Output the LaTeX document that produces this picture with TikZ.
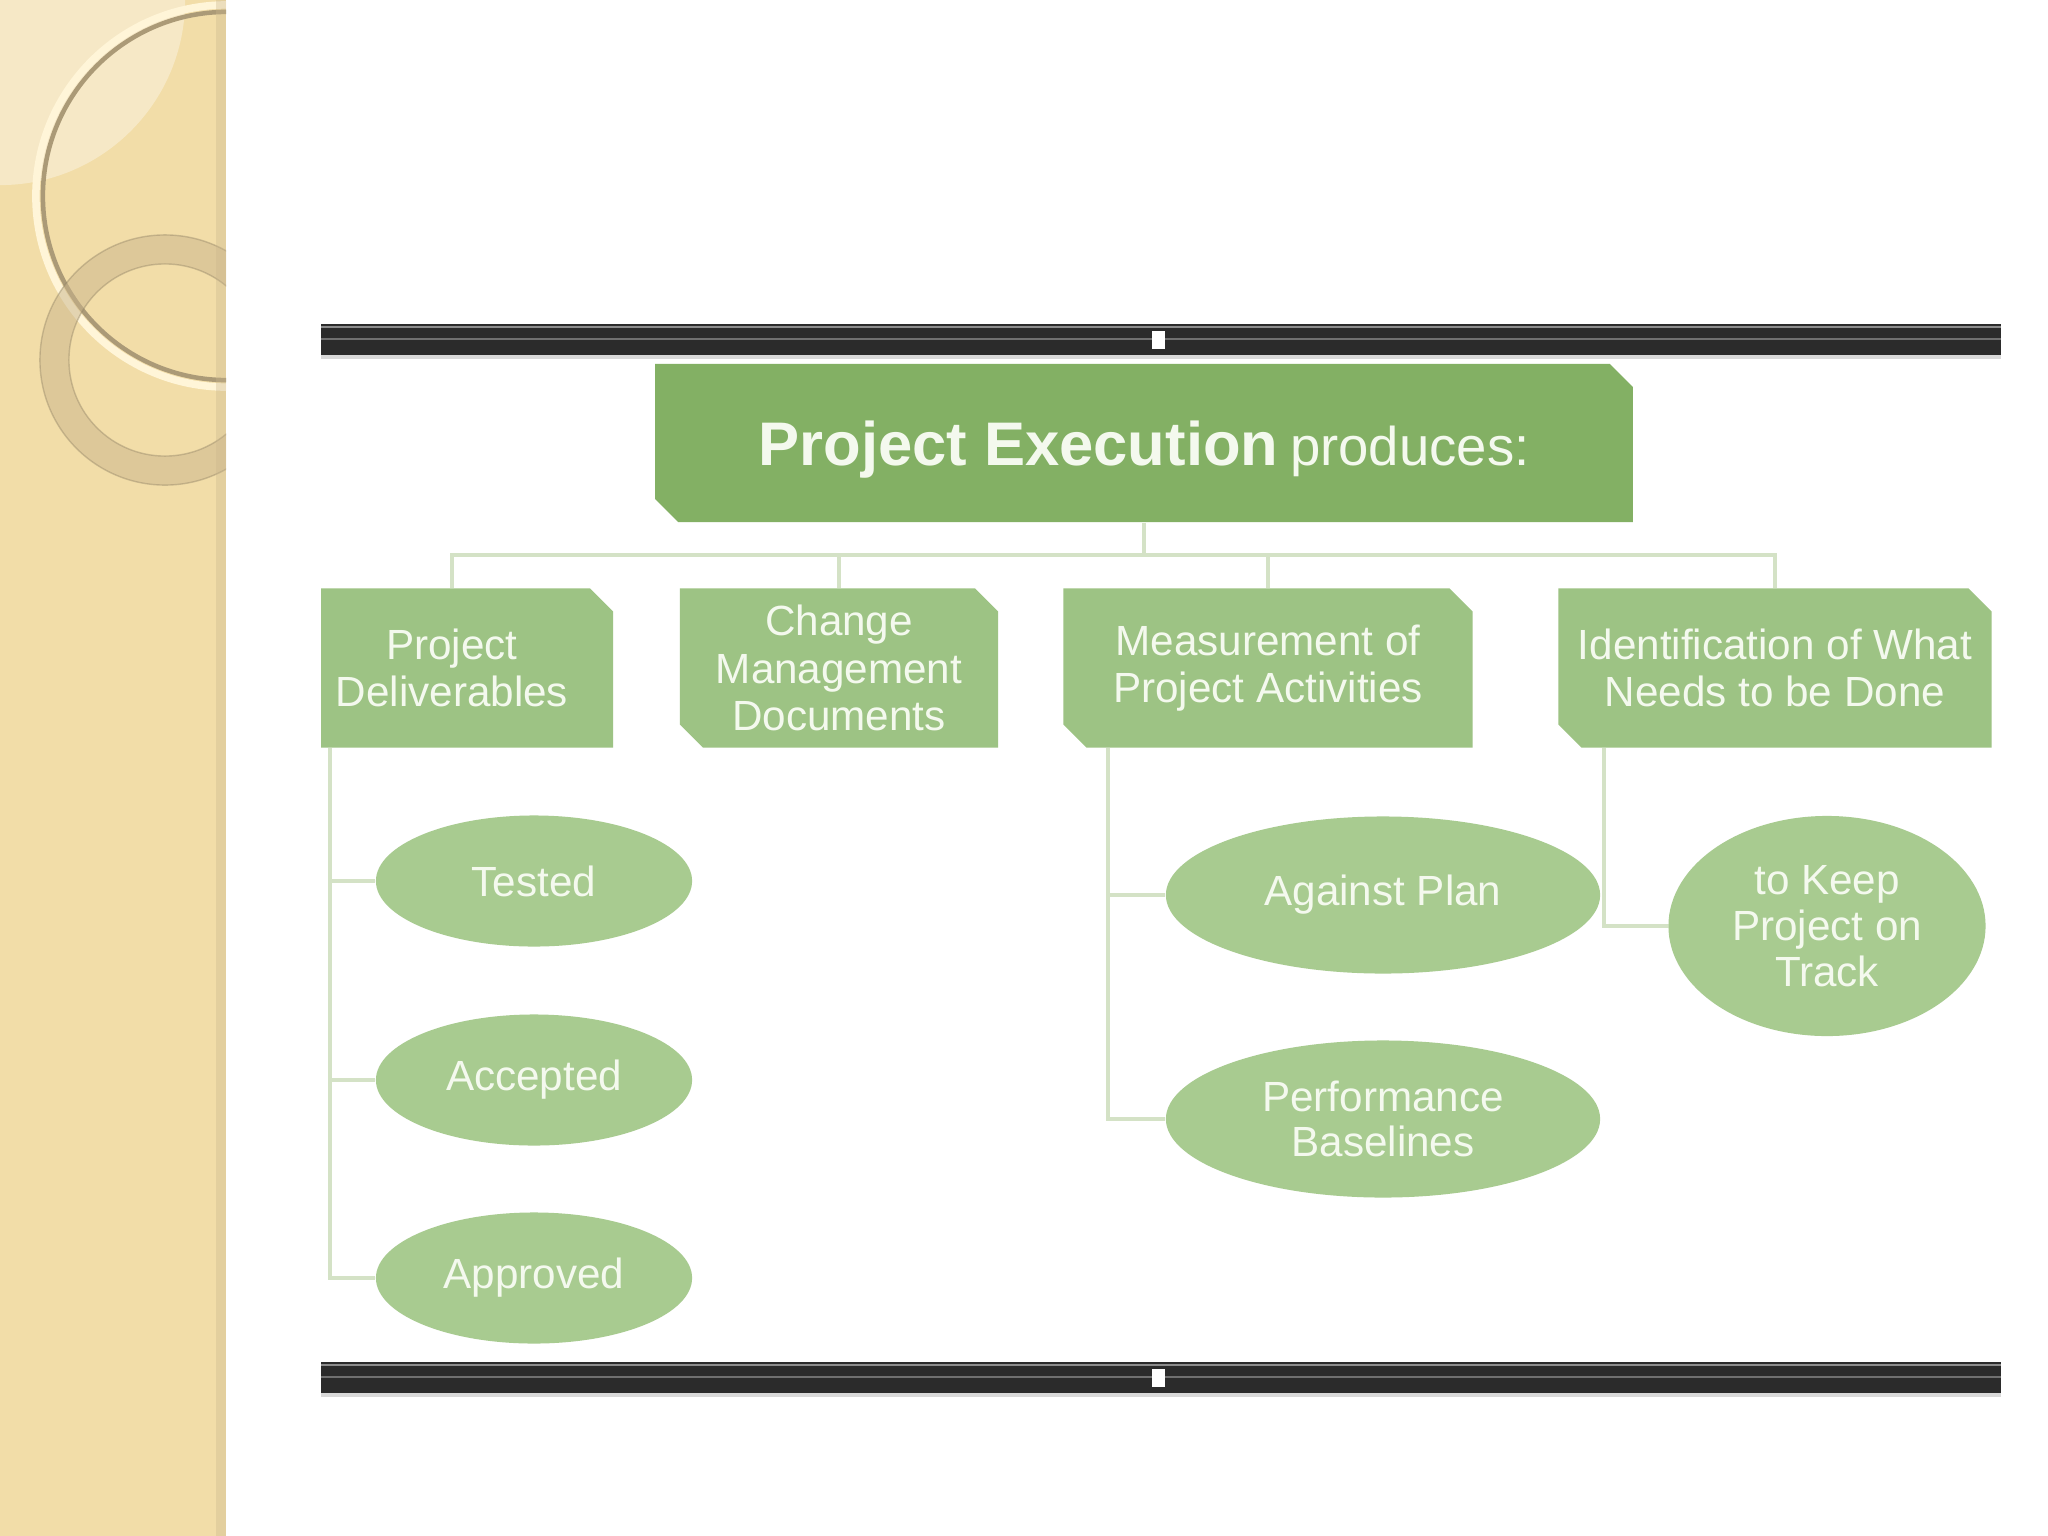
\documentclass[tikz,border=0pt]{standalone}
\usepackage{fontspec}
\setmainfont{Liberation Sans}
\usetikzlibrary{shapes.misc}
\usetikzlibrary{shapes.geometric}

\definecolor{panelbeige}{HTML}{F2DDA8}
\definecolor{ringcream}{HTML}{FFF5D8}
\definecolor{ringtan}{HTML}{C9B58C}
\definecolor{bardark}{HTML}{2B2B2B}
\definecolor{bargray}{HTML}{8C8C8C}
\definecolor{headgreen}{HTML}{83B064}
\definecolor{boxgreen}{HTML}{9DC384}
\definecolor{ovalgreen}{HTML}{A8CB90}
\definecolor{linkgreen}{HTML}{D4E2C6}
\definecolor{leaftext}{HTML}{F4F9EE}

\begin{document}
\begin{tikzpicture}[x=0.01cm,y=-0.01cm,
    chunk/.style={chamfered rectangle,chamfered rectangle corners={north east,south west},
      chamfered rectangle xsep=1.15mm,chamfered rectangle ysep=1.15mm,inner sep=0pt,
      fill=boxgreen,text=leaftext,align=center,minimum height=15.9mm,
      font=\fontsize{12}{13.5}\selectfont},
    leaf/.style={ellipse,fill=ovalgreen,text=leaftext,align=center,inner sep=0pt,
      font=\fontsize{12}{13}\selectfont},
    link/.style={draw=linkgreen,line width=0.9pt}]
    \useasboundingbox[fill=white] (0,0) rectangle (2048,1536);

    % side panel
    \fill[panelbeige] (0,0) rectangle (226,1536);
    \begin{scope}
      \clip (0,0) rectangle (226,1536);
      \fill[white,opacity=0.35] (0,0) circle (1.85cm);
      \draw[ringcream,line width=0.75mm] (227,196) circle (1.91cm);
      \draw[ringtan!85!black,line width=0.45mm] (227,196) circle (1.84cm);
      \fill[ringtan,opacity=0.5,even odd rule] (165,360) circle (1.25cm) (165,360) circle (0.96cm);
      \draw[ringtan!70!black,opacity=0.4,line width=0.4pt] (165,360) circle (1.25cm) (165,360) circle (0.96cm);
      \fill[ringtan,opacity=0.35] (216,0) rectangle (226,1536);
    \end{scope}

    % frame bars
    \foreach \y in {324,1362}{
      \fill[bardark] (321,\y) rectangle (2001,\y+31);
      \fill[bargray] (321,\y+2) rectangle (2001,\y+4);
      \fill[bargray!80!black] (321,\y+14) rectangle (2001,\y+16);
      \fill[black!15] (321,\y+31) rectangle (2001,\y+35);
      \fill[white] (1152,\y+7) rectangle (1165,\y+25);
    }

    \begin{scope}
      \clip (321,353) rectangle (2001,1362);
      \node[chunk,fill=headgreen,minimum width=97.7mm,minimum height=15.8mm,text depth=0pt] (head) at (1144,443)
        {{\fontsize{17.5}{20}\selectfont\bfseries Project Execution} {\fontsize{15.5}{18}\selectfont produces:}};

      \node[chunk,minimum width=32.2mm] (deliv) at (452,668) {Project\\Deliverables};
      \node[chunk,minimum width=31.8mm] (change) at (839,668) {Change\\Management\\Documents};
      \node[chunk,minimum width=40.9mm] (measure) at (1268,668) {Measurement of\\Project Activities};
      \node[chunk,minimum width=43.3mm] (ident) at (1775,668) {Identification of What\\Needs to be Done};

      \foreach \name/\y/\txt in {tested/881/Tested,accepted/1080/Accepted,approved/1278/Approved}{
        \node[leaf,minimum width=31.6mm,minimum height=13.1mm] (\name) at (534,\y) {\txt};
      }
      \node[leaf,minimum width=43.4mm,minimum height=15.7mm] (against) at (1383,895) {Against Plan};
      \node[leaf,minimum width=43.4mm,minimum height=15.7mm] (baseline) at (1383,1119) {Performance\\Baselines};
      \node[leaf,minimum width=31.7mm,minimum height=22mm] (track) at (1827,926) {to Keep\\Project on\\Track};

      \coordinate (hub) at (1144,555);
      \draw[link] (head.south) -- (hub);
      \foreach \b in {deliv,change,measure,ident}{
        \draw[link] (hub) -| (\b.north);
      }
      \foreach \e in {tested,accepted,approved}{
        \draw[link] ([xshift=-12.2mm]deliv.south) |- (\e.west);
      }
      \foreach \e in {against,baseline}{
        \draw[link] ([xshift=-16mm]measure.south) |- (\e.west);
      }
      \draw[link] ([xshift=-17.1mm]ident.south) |- (track.west);
    \end{scope}
  \end{tikzpicture}
\end{document}
